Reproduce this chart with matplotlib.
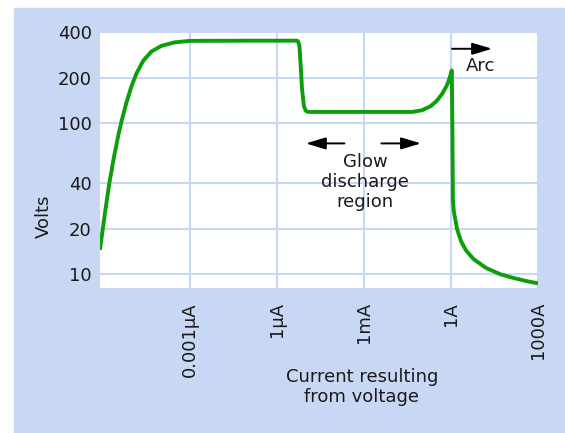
import matplotlib
matplotlib.use("Agg")
import matplotlib.pyplot as plt
from matplotlib.patches import Rectangle

# current (A) vs voltage across a gas discharge tube
current = [8.1e-13, 1.0e-12, 1.26e-12, 1.7e-12, 2.51e-12, 3.55e-12, 4.47e-12,
           6.6e-12, 9.77e-12, 1.45e-11, 2.51e-11, 4.79e-11, 1.05e-10,
           3.0e-10, 1.0e-9, 1.0e-7,
           5.0e-6, 5.4e-6, 6.0e-6, 6.6e-6, 7.4e-6, 8.6e-6, 1.0e-5, 1.2e-5,
           1.0e-3, 0.046, 0.1, 0.2, 0.316, 0.5, 0.71, 0.89, 1.07,
           1.12, 1.17, 1.26, 1.62, 2.24, 3.3, 6.0, 16.2, 50.0, 126.0, 400.0,
           1000.0]
volts = [14.5, 19.6, 27, 40, 61, 85, 103,
         137, 175, 213, 260, 299, 326,
         344, 352, 353,
         353, 349, 330, 250, 170, 130, 121, 119,
         119, 119, 122, 130, 140, 157, 177, 198, 224,
         100, 31, 26, 20, 16.5, 14.4, 12.6, 11.0, 10.0, 9.5, 9.0,
         8.7]

xticks = [1e-9, 1e-6, 1e-3, 1, 1e3]
xtick_labels = ["0.001\u00b5A", "1\u00b5A", "1mA", "1A", "1000A"]
yticks = [10, 20, 40, 100, 200, 400]

BLUE = "#c8d8f4"
GRID = "#c9d8f2"
GREEN = "#0d9e0d"
INK = "#1a1a1a"

plt.rcParams["font.family"] = ["DejaVu Sans"]

fig = plt.figure(figsize=(5.65, 4.33), dpi=100, facecolor="white")
fig.patches.append(Rectangle((14 / 565, 0), 1, 1 - 8 / 433,
                             transform=fig.transFigure, color=BLUE, zorder=-10))
ax = fig.add_axes([100 / 565, 1 - 288 / 433, 438 / 565, 255.5 / 433])
ax.set_facecolor("white")

ax.plot(current, volts, color=GREEN, lw=2.8, solid_joinstyle="round",
        solid_capstyle="butt", zorder=3)

ax.set_xscale("log")
ax.set_yscale("log")
ax.set_xlim(10 ** -12.09, 1e3)
ax.set_ylim(8.1, 400)

ax.set_xticks(xticks)
ax.set_xticklabels(xtick_labels, rotation=90, va="top", ha="center")
ax.set_yticks(yticks)
ax.set_yticklabels([str(v) for v in yticks])
ax.minorticks_off()
ax.tick_params(axis="both", length=0, labelsize=13, labelcolor=INK)
ax.tick_params(axis="x", pad=10)
ax.tick_params(axis="y", pad=6)
ax.grid(True, color=GRID, lw=1.5)
ax.set_axisbelow(True)
for s in ax.spines.values():
    s.set_visible(False)

ax.set_ylabel("Volts", fontsize=13, color=INK)
ax.yaxis.set_label_coords(-0.108, 0.28)

fig.text(362 / 565, 1 - 387 / 433, "Current resulting\nfrom voltage",
         ha="center", va="center", fontsize=13, color=INK, linespacing=1.15)

arrow = dict(arrowstyle="-|>,head_length=0.6,head_width=0.18", lw=1.4,
             color="black", mutation_scale=20, shrinkA=0, shrinkB=0)
ax.annotate("", xy=(10 ** -5.0, 73.6), xytext=(10 ** -3.67, 73.6),
            arrowprops=arrow)
ax.annotate("", xy=(10 ** -1.03, 73.6), xytext=(10 ** -2.4, 73.6),
            arrowprops=arrow)
ax.text(10 ** -2.95, 41, "Glow\ndischarge\nregion", ha="center", va="center",
        fontsize=13, color=INK, linespacing=1.15)
ax.annotate("", xy=(10 ** 1.42, 312), xytext=(10 ** 0.04, 312),
            arrowprops=arrow)
ax.text(10 ** 1.03, 240, "Arc", ha="center", va="center", fontsize=13,
        color=INK)

fig.savefig("out.png", dpi=100)
